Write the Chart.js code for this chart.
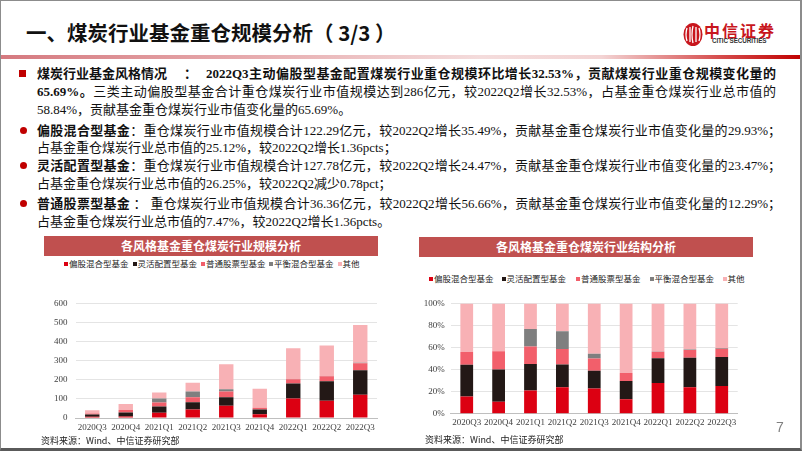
<!DOCTYPE html>
<html><head><meta charset="utf-8">
<script src="https://cdn.jsdelivr.net/npm/chart.js@4/dist/chart.umd.min.js"></script>
<style>
html,body{margin:0;padding:0;background:#fff;}
body{width:802px;height:451px;position:relative;overflow:hidden;font-family:"Noto Sans CJK SC",sans-serif;}
.frame{position:absolute;left:0;top:0;width:802px;height:451px;box-sizing:border-box;border:1px solid #8c8c8c;border-bottom:3px solid #5a5a5a;border-right:2px solid #8c8c8c;pointer-events:none;z-index:5;}
.abs{position:absolute;white-space:nowrap;}
.title{left:26px;top:18px;font-size:20.5px;font-weight:bold;color:#111;line-height:28px;}
.hline{position:absolute;left:0;top:55px;width:802px;height:4px;background:linear-gradient(90deg,#d5797f 0%,#e6a9ac 30%,#f4dcdc 60%,#f3d4d4 75%,#d54a4a 90%,#c00000 100%);}
.txt{font-family:"Liberation Serif","Noto Sans CJK SC",serif;font-size:13px;line-height:18px;color:#111;}
.b{font-weight:bold;font-family:"Liberation Serif","Noto Sans CJK SC",serif;}
.j{text-align:justify;text-align-last:justify;}
.sq{position:absolute;width:7px;height:7px;background:#c00000;}
.dot{position:absolute;width:7px;height:7px;border-radius:50%;background:#c00000;}
.banner{position:absolute;height:20px;background:#c0504f;color:#fff;font-weight:bold;font-size:12px;line-height:20px;text-align:center;}
.leg{position:absolute;font-size:8.5px;line-height:10px;color:#222;white-space:nowrap;}
.leg i{display:inline-block;width:4px;height:4px;margin-right:1px;vertical-align:1px;}
.src{position:absolute;font-size:9px;color:#222;line-height:12px;white-space:nowrap;}
canvas{position:absolute;}
</style></head>
<body>
<div class="frame"></div>
<div class="abs title">一、煤炭行业基金重仓规模分析（ 3/3 ）</div>
<svg style="position:absolute;left:683px;top:22px" width="22" height="26" viewBox="0 0 22 26">
  <ellipse cx="10" cy="12.5" rx="9.5" ry="11.5" fill="#c8161d"/>
  <path d="M4 6 Q2 12.5 4 19 M7 5 L7 20 M10 4 Q8 12.5 10 21 M13 5 L13 20 M16 6 Q18 12.5 16 19" stroke="#fff" stroke-width="1.3" fill="none"/>
</svg>
<div class="abs" style="left:704px;top:21px;font-size:16px;font-weight:bold;color:#c8161d;letter-spacing:2px;line-height:18px;">中信证券</div>
<div class="abs" style="left:712px;top:37px;font-size:6.3px;font-weight:bold;color:#333;font-family:'Liberation Sans',sans-serif;line-height:8px;letter-spacing:-0.1px;">CITIC SECURITIES</div>
<div class="hline"></div>

<div class="sq" style="left:19px;top:70px;"></div>
<div class="abs txt b" style="left:37px;top:65px;">煤炭行业基金风格情况</div>
<div class="abs txt b" style="left:184px;top:65px;">：</div>
<div class="abs txt b j" style="left:206px;top:65px;width:570px;">2022Q3主动偏股型基金配置煤炭行业重仓规模环比增长32.53%，贡献煤炭行业重仓规模变化量的</div>
<div class="abs txt j" style="left:37px;top:83px;width:739px;"><span class="b">65.69%。</span>三类主动偏股型基金合计重仓煤炭行业市值规模达到286亿元，较2022Q2增长32.53%，占基金重仓煤炭行业总市值的</div>
<div class="abs txt" style="left:37px;top:101px;">58.84%，贡献基金重仓煤炭行业市值变化量的65.69%。</div>

<div class="dot" style="left:20px;top:127px;"></div>
<div class="abs txt j" style="left:37px;top:122px;width:744px;"><span class="b">偏股混合型基金</span>：重仓煤炭行业市值规模合计122.29亿元，较2022Q2增长35.49%，贡献基金重仓煤炭行业市值变化量的29.93%；</div>
<div class="abs txt" style="left:37px;top:139px;">占基金重仓煤炭行业总市值的25.12%，较2022Q2增长1.36pcts；</div>

<div class="dot" style="left:20px;top:162px;"></div>
<div class="abs txt j" style="left:37px;top:157px;width:744px;"><span class="b">灵活配置型基金</span>：重仓煤炭行业市值规模合计127.78亿元，较2022Q2增长24.47%，贡献基金重仓煤炭行业市值变化量的23.47%；</div>
<div class="abs txt" style="left:37px;top:175px;">占基金重仓煤炭行业总市值的26.25%，较2022Q2减少0.78pct；</div>

<div class="dot" style="left:20px;top:200px;"></div>
<div class="abs txt j" style="left:37px;top:195px;width:744px;"><span class="b">普通股票型基金</span> ： 重仓煤炭行业市值规模合计36.36亿元，较2022Q2增长56.66%，贡献基金重仓煤炭行业市值变化量的12.29%；</div>
<div class="abs txt" style="left:37px;top:213px;">占基金重仓煤炭行业总市值的7.47%，较2022Q2增长1.36pcts。</div>

<div class="banner" style="left:44px;top:236px;width:334px;">各风格基金重仓煤炭行业规模分析</div>
<div class="banner" style="left:419px;top:237px;width:334px;">各风格基金重仓煤炭行业结构分析</div>
<div id="legL"></div>
<div id="legR"></div>

<canvas id="c1" width="365" height="145" style="left:20px;top:290px;"></canvas>
<canvas id="c2" width="345" height="140" style="left:405px;top:292px;"></canvas>

<div class="src" style="left:41px;top:435px;">资料来源：Wind、中信证券研究部</div>
<div class="src" style="left:425px;top:434px;">资料来源：Wind、中信证券研究部</div>
<div class="abs" style="left:776px;top:419px;font-size:14px;color:#7f7f7f;font-family:'Liberation Sans',sans-serif;">7</div>

<script>
// ---- data ----
const categories = ['2020Q3','2020Q4','2021Q1','2021Q2','2021Q3','2021Q4','2022Q1','2022Q2','2022Q3'];
const seriesNames = ['偏股混合型基金','灵活配置型基金','普通股票型基金','平衡混合型基金','其他'];
// 规模（亿元）
const pianguScale   = [6.4, 7.9, 27.9, 44.4, 63.5, 19.5, 102.1, 90.3, 122.3];
const linghuoScale  = [11.8, 21.3, 31.9, 38.3, 45.5, 24.5, 78.5, 102.7, 127.8];
const putongScale   = [4.8, 12.2, 21.3, 25.7, 30.0, 9.5, 22.0, 25.0, 36.4];
const pinghengScale = [0, 0, 21.2, 29.9, 12.0, 0, 1.1, 1.9, 2.9];
const otherScale    = [18.0, 31.6, 30.7, 46.6, 130.0, 99.0, 162.0, 160.0, 198.0];
// 结构（%）
const pianguShare   = [15.6, 10.8, 21.0, 24.0, 22.8, 13.2, 27.9, 24.0, 25.1];
const linghuoShare  = [28.8, 29.2, 24.0, 20.7, 16.2, 16.5, 22.3, 26.8, 26.3];
const putongShare   = [11.6, 16.7, 16.0, 13.9, 11.0, 7.3, 6.0, 6.9, 7.5];
const pinghengShare = [0, 0, 15.9, 16.2, 4.4, 0, 0.3, 0.5, 0.6];
const otherShare    = [44.0, 43.3, 23.1, 25.2, 45.6, 63.0, 43.5, 41.8, 40.5];
const yTicksScale = [0, 100, 200, 300, 400, 500, 600];
const yTicksShare = [0, 10, 20, 30, 40, 50, 60, 70, 80, 90, 100];

const colors = ['#dc0012', '#231816', '#f25f6b', '#7f7f7f', '#f8b1b5'];

function legend(id, itemX, y) {
  const el = document.getElementById(id);
  seriesNames.forEach((n, i) => {
    const d = document.createElement('div');
    d.className = 'leg';
    d.style.left = itemX[i] + 'px';
    d.style.top = (y - 5) + 'px';
    d.innerHTML = '<i style="background:' + colors[i] + '"></i>' + n;
    el.appendChild(d);
  });
}
legend('legL', [64, 132.5, 201, 269, 337.5], 263);
legend('legR', [429, 501.5, 576, 649.5, 722.5], 277.5);

Chart.defaults.devicePixelRatio = 1;
const tickFont = { family: 'Liberation Serif', size: 9 };

function makeChart(id, sets, yMax, step, yW, xH, padTop, padRight, barPct, ySuffix, yPad) {
  new Chart(document.getElementById(id), {
    type: 'bar',
    data: {
      labels: categories,
      datasets: sets.map((d, i) => ({
        label: seriesNames[i], data: d, backgroundColor: colors[i], borderWidth: 0,
        barPercentage: barPct, categoryPercentage: 1
      }))
    },
    options: {
      responsive: false, animation: false,
      layout: { padding: { left: 0, right: padRight, top: padTop, bottom: 0 } },
      plugins: { legend: { display: false }, tooltip: { enabled: false } },
      scales: {
        x: {
          stacked: true,
          grid: { display: false, drawTicks: false },
          border: { display: true, color: '#bfbfbf', width: 1 },
          ticks: { font: tickFont, color: '#404040', padding: 4, maxRotation: 0, autoSkip: false },
          afterFit: s => { s.height = xH; }
        },
        y: {
          stacked: true, min: 0, max: yMax,
          grid: { color: '#e4e4e4', lineWidth: 1, drawTicks: false },
          border: { display: false },
          ticks: { stepSize: step, font: tickFont, color: '#404040', padding: yPad,
                   callback: v => v + ySuffix },
          afterFit: s => { s.width = yW; }
        }
      }
    }
  });
}

makeChart('c1', [pianguScale, linghuoScale, putongScale, pinghengScale, otherScale],
  yTicksScale[yTicksScale.length - 1], yTicksScale[1] - yTicksScale[0], 55.5, 17, 10.7, 8, 0.43, '', 8);
makeChart('c2', [pianguShare, linghuoShare, putongShare, pinghengShare, otherShare],
  yTicksShare[yTicksShare.length - 1], yTicksShare[1] - yTicksShare[0], 45.8, 18.3, 10.7, 12.3, 0.40, '%', 6);
</script>
</body></html>
